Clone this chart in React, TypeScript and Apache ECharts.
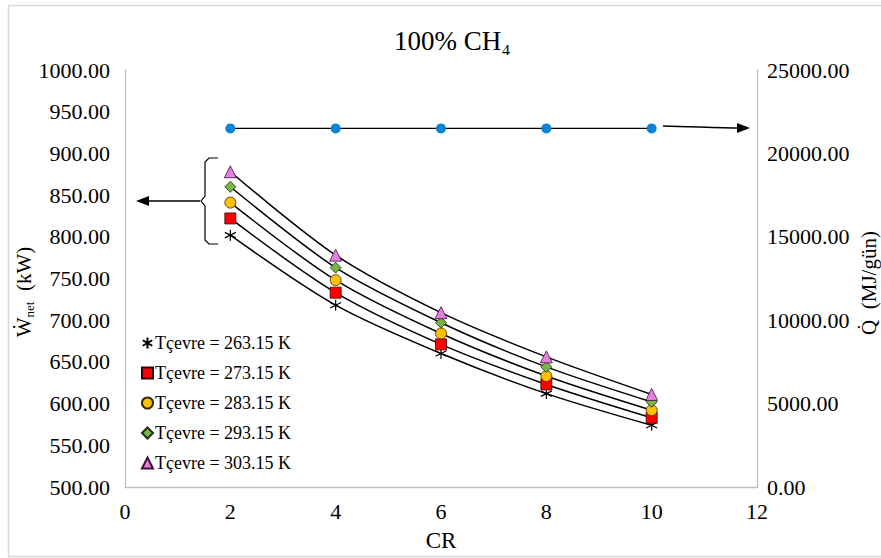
import React, { useEffect, useRef } from "react";
import * as echarts from "echarts";

const crValues = [2, 4, 6, 8, 10];
const xTicks = [0, 2, 4, 6, 8, 10, 12];
const w26315 = [802, 718, 660, 612, 574];
const w27315 = [822, 733, 671, 623, 583];
const w28315 = [841, 748, 684, 633, 592];
const w29315 = [860, 763, 697, 644, 602];
const w30315 = [878, 778, 709, 656, 611];
const qValues = [21500, 21500, 21500, 21500, 21500];
const seriesNames = [
  "Tçevre = 263.15 K",
  "Tçevre = 273.15 K",
  "Tçevre = 283.15 K",
  "Tçevre = 293.15 K",
  "Tçevre = 303.15 K",
];

const FONT = '"Liberation Serif", "Times New Roman", serif';
const STAR = "path://M5,0L5,10M0.67,2.5L9.33,7.5M0.67,7.5L9.33,2.5";

export default function App() {
  const ref = useRef<HTMLDivElement>(null);
  useEffect(() => {
    document.body.style.margin = "0";
    const chart = echarts.init(ref.current!, null, { renderer: "svg" });
    const mk = (
      name: string,
      data: number[],
      symbol: string,
      size: number,
      color: string,
      borderColor: string,
      borderWidth: number
    ) => ({
      name,
      type: "line",
      smooth: 0.3,
      data: crValues.map((x, i) => [x, data[i]]),
      symbol,
      symbolSize: size,
      showSymbol: true,
      lineStyle: { color: "#000", width: 1.5 },
      itemStyle: { color, borderColor, borderWidth },
      z: 3,
    });
    const series: any[] = [
      mk(seriesNames[0], w26315, STAR, 11, "#000", "#000", 1.2),
      mk(seriesNames[1], w27315, "rect", 11, "#FF0000", "#3a0000", 0.8),
      mk(seriesNames[2], w28315, "circle", 11, "#FFC000", "#3a2a00", 0.8),
      mk(seriesNames[3], w29315, "diamond", 11, "#78B447", "#1e3010", 0.8),
      mk(seriesNames[4], w30315, "triangle", 12, "#E680E0", "#3a103a", 0.8),
      {
        name: "Q",
        type: "line",
        yAxisIndex: 1,
        data: crValues.map((x, i) => [x, qValues[i]]),
        symbol: "circle",
        symbolSize: 10,
        lineStyle: { color: "#000", width: 1.2 },
        itemStyle: { color: "#0B84D8", borderWidth: 0 },
        z: 3,
      },
    ];
    const icons = [STAR, "rect", "circle", "diamond", "triangle"];
    chart.setOption({
      animation: false,
      textStyle: { fontFamily: FONT },
      title: {
        text: "100% CH₄",
        left: 389,
        top: 22,
        textStyle: { fontFamily: FONT, fontSize: 27, fontWeight: "normal", color: "#000" },
      },
      grid: {
        left: 125,
        right: 124,
        top: 70,
        bottom: 71,
        show: false,
        containLabel: false,
        outerBoundsMode: "none",
      },
      legend: {
        orient: "vertical",
        left: 136,
        top: 329,
        itemWidth: 11,
        itemHeight: 11,
        itemGap: 12,
        textStyle: {
          fontFamily: FONT,
          fontSize: 18,
          lineHeight: 18,
          color: "#000",
          padding: [0, 0, 0, -3],
        },
        data: seriesNames.map((n, i) => ({ name: n, icon: icons[i] })),
      },
      xAxis: {
        type: "value",
        min: xTicks[0],
        max: xTicks[xTicks.length - 1],
        interval: 2,
        name: "CR",
        nameLocation: "middle",
        nameGap: 42,
        nameTextStyle: { fontFamily: FONT, fontSize: 23, color: "#000" },
        axisLine: { show: true, lineStyle: { color: "#bfbfbf", width: 1.3 } },
        axisTick: { show: false },
        splitLine: { show: false },
        axisLabel: { fontFamily: FONT, fontSize: 22, color: "#000", margin: 13 },
      },
      yAxis: [
        {
          type: "value",
          min: 500,
          max: 1000,
          interval: 50,
          axisLine: { show: true, lineStyle: { color: "#bfbfbf", width: 1.3 } },
          axisTick: { show: false },
          splitLine: { show: false },
          axisLabel: {
            fontFamily: FONT,
            fontSize: 22,
            color: "#000",
            margin: 15,
            formatter: (v: number) => v.toFixed(2),
          },
        },
        {
          type: "value",
          min: 0,
          max: 25000,
          interval: 5000,
          position: "right",
          axisLine: { show: true, lineStyle: { color: "#bfbfbf", width: 1.3 } },
          axisTick: { show: false },
          splitLine: { show: false },
          axisLabel: {
            fontFamily: FONT,
            fontSize: 22,
            color: "#000",
            margin: 10,
            formatter: (v: number) => v.toFixed(2),
          },
        },
      ],
      series,
      graphic: [
        {
          type: "rect",
          shape: { x: 8.5, y: 5.5, width: 900, height: 551 },
          style: { fill: "none", stroke: "#d9d9d9", lineWidth: 1.5 },
          silent: true,
        },
        {
          type: "text",
          x: 24,
          y: 292,
          rotation: Math.PI / 2,
          style: {
            text: "{w|Ẇ}{s|net}{w|  (kW)}",
            align: "center",
            verticalAlign: "middle",
            rich: {
              w: { fontFamily: FONT, fontSize: 21, fill: "#000" },
              s: { fontFamily: FONT, fontSize: 13, fill: "#000", padding: [10, 0, 0, 0] },
            },
          },
        },
        {
          type: "text",
          x: 869,
          y: 283,
          rotation: Math.PI / 2,
          style: {
            text: "Q̇  (MJ/gün)",
            align: "center",
            verticalAlign: "middle",
            font: `21px ${FONT}`,
            fill: "#000",
          },
        },
        {
          type: "polyline",
          shape: {
            points: [
              [218, 158],
              [209, 158],
              [205, 162],
              [205, 196],
              [201, 201],
              [205, 206],
              [205, 240],
              [209, 244],
              [218, 244],
            ],
          },
          style: { stroke: "#000", lineWidth: 1.2, fill: "none" },
        },
        {
          type: "line",
          shape: { x1: 200, y1: 201, x2: 148, y2: 201 },
          style: { stroke: "#000", lineWidth: 1.5 },
        },
        {
          type: "polygon",
          shape: { points: [[136, 201], [149, 196], [149, 206]] },
          style: { fill: "#000" },
        },
        {
          type: "bezierCurve",
          shape: { x1: 663, y1: 126, cpx1: 690, cpy1: 126.5, cpx2: 720, cpy2: 128, x2: 739, y2: 128 },
          style: { stroke: "#000", lineWidth: 1.5, fill: "none" },
        },
        {
          type: "polygon",
          shape: { points: [[750, 128], [737, 123], [737, 133]] },
          style: { fill: "#000" },
        },
      ],
    });
    return () => chart.dispose();
  }, []);
  return <div ref={ref} style={{ width: 881, height: 558 }} />;
}
